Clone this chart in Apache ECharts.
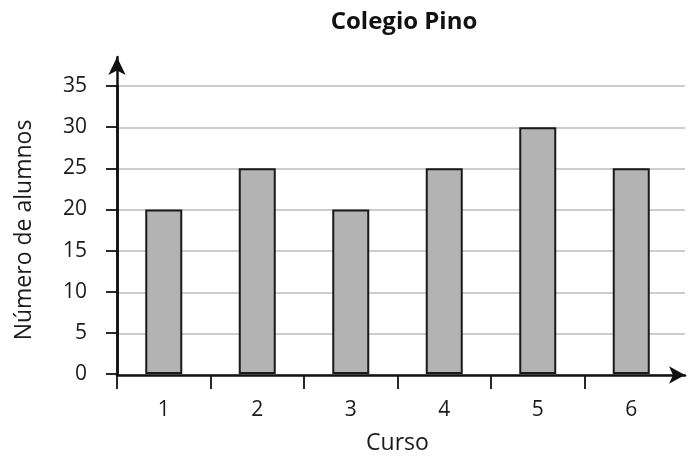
<!DOCTYPE html>
<html>
<head>
<meta charset="utf-8">
<script src="https://cdn.jsdelivr.net/npm/echarts@6/dist/echarts.min.js"></script>
<style>html,body{margin:0;padding:0;background:#fff}#c{width:692px;height:460px}</style>
</head>
<body>
<div id="c"></div>
<script>
var titleText = 'Colegio Pino';
var xName = 'Curso';
var yName = 'Número de alumnos';
var categories = ['1', '2', '3', '4', '5', '6'];
var values = [20, 25, 20, 25, 30, 25];
var yMin = 0, yMax = 35, yStep = 5;
var boundaryTicks = [0, 1, 2, 3, 4, 5];

var FONT = 'Open Sans';
var chart = echarts.init(document.getElementById('c'), null, {renderer: 'canvas'});
var axisBlack = '#111';
chart.setOption({
  backgroundColor: '#fff',
  animation: false,
  title: {
    text: titleText, left: 399, top: 5, textAlign: 'center',
    textStyle: {fontFamily: FONT, fontSize: 24, fontWeight: 'bold', color: '#111'}
  },
  grid: [
    {left: 117, right: 14, top: 86, bottom: 85},
    {left: 117, right: 7, top: 86, bottom: 85},
    {left: 117, right: 7, top: 57, bottom: 85}
  ],
  xAxis: [
    {
      gridIndex: 0, type: 'category', data: categories,
      axisLine: {show: false}, axisTick: {show: false},
      axisLabel: {margin: 26, fontFamily: FONT, fontSize: 21, color: '#1a1a1a'},
      name: xName, nameLocation: 'middle', nameGap: 58,
      nameTextStyle: {fontFamily: FONT, fontSize: 23, color: '#1a1a1a'}
    },
    {
      gridIndex: 1, type: 'value', min: 0, max: 6.075,
      axisLine: {show: true, lineStyle: {color: axisBlack, width: 2.5}, symbol: ['none', 'arrow'], symbolSize: [13, 16]},
      axisTick: {show: true, customValues: boundaryTicks, length: 14, lineStyle: {color: axisBlack, width: 1.8}},
      axisLabel: {show: false}, splitLine: {show: false}
    },
    {gridIndex: 2, type: 'value', show: false}
  ],
  yAxis: [
    {
      gridIndex: 0, type: 'value', min: yMin, max: yMax, interval: yStep,
      axisLine: {show: true, lineStyle: {color: axisBlack, width: 2.5}},
      axisTick: {show: true, length: 11, lineStyle: {color: axisBlack, width: 1.8}},
      axisLabel: {margin: 30, fontFamily: FONT, fontSize: 21, color: '#1a1a1a'},
      splitLine: {show: false},
      name: yName, nameLocation: 'middle', nameGap: 81,
      nameTextStyle: {fontFamily: FONT, fontSize: 23, color: '#1a1a1a'}
    },
    {
      gridIndex: 1, type: 'value', min: yMin, max: yMax, interval: yStep,
      axisLine: {show: false}, axisTick: {show: false}, axisLabel: {show: false},
      splitLine: {show: true, lineStyle: {color: '#bdbdbd', width: 1.5}}
    },
    {
      gridIndex: 2, type: 'value', min: 0, max: 1,
      axisLine: {show: true, lineStyle: {color: axisBlack, width: 2.5}, symbol: ['none', 'arrow'], symbolSize: [13, 18]},
      axisTick: {show: false}, axisLabel: {show: false}, splitLine: {show: false}
    }
  ],
  series: [{
    type: 'bar', xAxisIndex: 0, yAxisIndex: 0, data: values, barWidth: 37, z: 5,
    itemStyle: {color: '#b3b3b3', borderColor: '#1a1a1a', borderWidth: 2}
  }]
});
</script>
</body>
</html>
